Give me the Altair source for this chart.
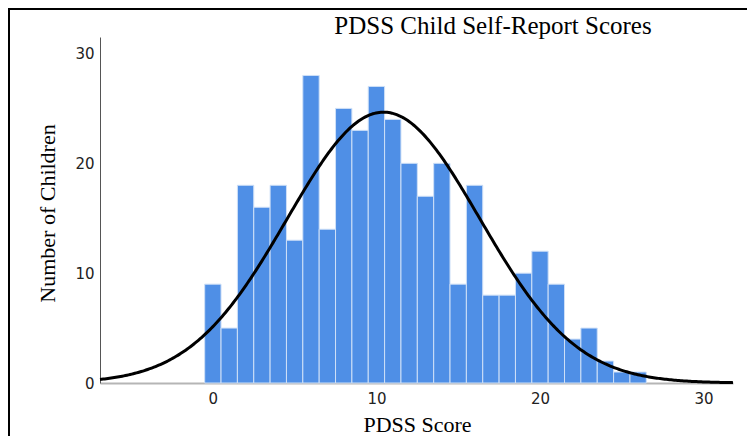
import altair as alt
import numpy as np
import pandas as pd

# ---- data ----
scores = list(range(27))
counts = [9, 5, 18, 16, 18, 13, 28, 14, 25, 23, 27, 24, 20, 17, 20, 9, 18, 8, 8,
          10, 12, 9, 4, 5, 2, 1, 1]
x_ticks = [0, 10, 20, 30]
y_ticks = [0, 10, 20, 30]
chart_title = "PDSS Child Self-Report Scores"
x_title = "PDSS Score"
y_title = "Number of Children"

bars_df = pd.DataFrame({"score": scores, "count": counts})
bars_df["lo"] = bars_df["score"] - 0.5
bars_df["hi"] = bars_df["score"] + 0.5
bars_df["base"] = 0

# normal curve fitted to the histogram (mean / sd of the data, scaled to counts)
sc = np.array(scores, dtype=float)
ct = np.array(counts, dtype=float)
n = ct.sum()
mean = (sc * ct).sum() / n
sd = np.sqrt((ct * (sc - mean) ** 2).sum() / (n - 1))
cx = np.linspace(-6.9, 31.8, 400)
cy = n / (sd * np.sqrt(2 * np.pi)) * np.exp(-0.5 * ((cx - mean) / sd) ** 2)
curve_df = pd.DataFrame({"x": cx, "y": cy})

W, H = 633, 346
x_scale = alt.Scale(domain=[-6.9, 31.8], nice=False, zero=False)
y_scale = alt.Scale(domain=[0, 31.5], nice=False)

x_axis = alt.Axis(values=x_ticks, title=x_title, grid=False, ticks=False,
                  domainColor="#b5b5b5", domainWidth=2,
                  labelFont="DejaVu Sans", labelFontSize=15, labelColor="#222222",
                  labelPadding=8,
                  titleFont="Liberation Serif", titleFontSize=22, titleFontWeight="normal",
                  titleColor="#000000", titleX=317, titleY=48, titleBaseline="alphabetic")
y_axis = alt.Axis(values=y_ticks, title=y_title, grid=False, ticks=False,
                  domainColor="#555555", domainWidth=1,
                  labelFont="DejaVu Sans", labelFontSize=15, labelColor="#222222",
                  labelPadding=6,
                  titleFont="Liberation Serif", titleFontSize=22, titleFontWeight="normal",
                  titleColor="#000000", titleX=-53, titleY=H / 2 + 3, titleAngle=270,
                  titleBaseline="middle")

bars = alt.Chart(bars_df).mark_rect(color="#4f8fe6", stroke="#cfe0f7", strokeWidth=1).encode(
    x=alt.X("lo:Q", scale=x_scale, axis=x_axis),
    x2="hi:Q",
    y=alt.Y("count:Q", scale=y_scale, axis=y_axis),
    y2="base:Q",
)

curve = alt.Chart(curve_df).mark_line(color="#000000", strokeWidth=3).encode(
    x=alt.X("x:Q", scale=x_scale),
    y=alt.Y("y:Q", scale=y_scale),
)

title_df = pd.DataFrame({"t": [chart_title]})
title = alt.Chart(title_df).mark_text(font="Liberation Serif", fontSize=25, color="#000000",
                                      align="center", baseline="alphabetic").encode(
    x=alt.value(393), y=alt.value(-3), text="t:N")

frame_df = pd.DataFrame({"k": [1]})
frame_left = alt.Chart(frame_df).mark_rule(color="#000000", strokeWidth=2).encode(
    x=alt.value(-91), y=alt.value(-29), y2=alt.value(400))
frame_top = alt.Chart(frame_df).mark_rule(color="#000000", strokeWidth=2).encode(
    x=alt.value(-92), x2=alt.value(647), y=alt.value(-28))

chart = alt.layer(bars, curve, title, frame_left, frame_top).properties(
    width=W, height=H,
    autosize=alt.AutoSizeParams(type="none"),
    padding={"left": 92, "top": 29, "right": 14, "bottom": 53},
).configure_view(stroke=None)

chart.save("out.html", embed_options={"renderer": "svg", "actions": False})
